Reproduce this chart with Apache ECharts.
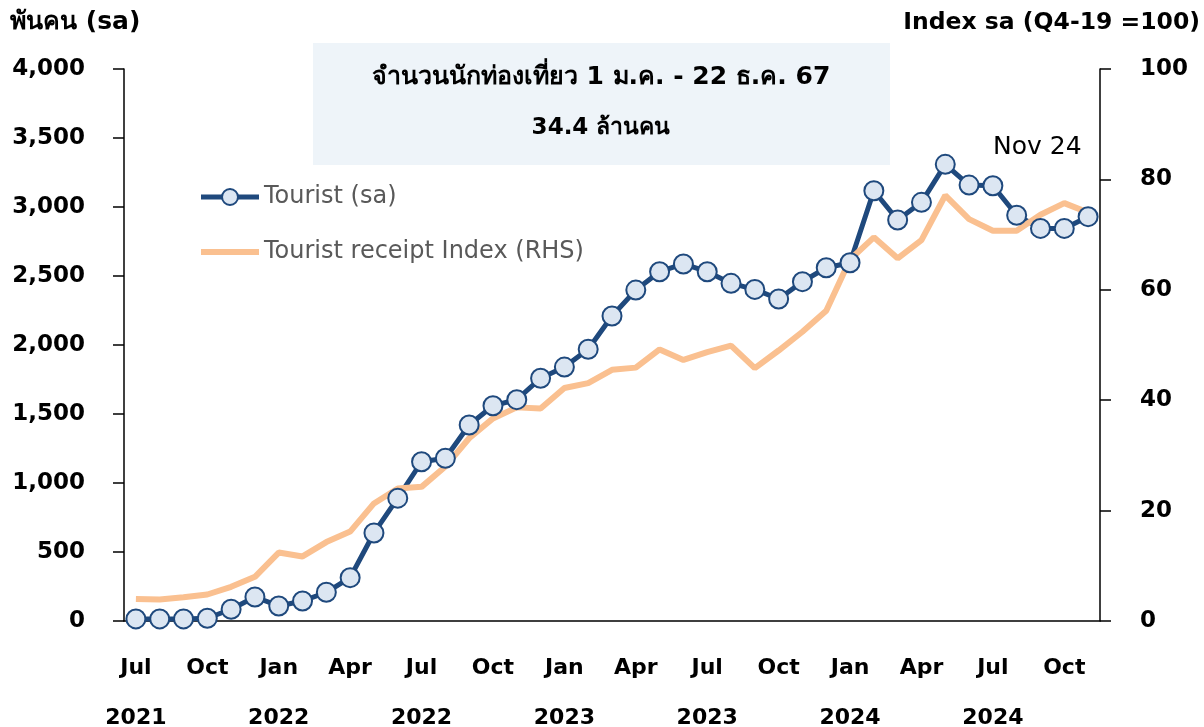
<!DOCTYPE html>
<html>
<head>
<meta charset="utf-8">
<script src="https://cdn.jsdelivr.net/npm/echarts@6/dist/echarts.min.js"></script>
<style>
	html, body { margin: 0; padding: 0; background: #fff; }
	#chart { width: 1204px; height: 727px; }
</style>
</head>
<body>
<div id="chart"></div>
<script>
	// monthly, Jul 2021 - Nov 2024
	var categories = [
		'Jul 2021', 'Aug 2021', 'Sep 2021', 'Oct 2021', 'Nov 2021', 'Dec 2021',
		'Jan 2022', 'Feb 2022', 'Mar 2022', 'Apr 2022', 'May 2022', 'Jun 2022',
		'Jul 2022', 'Aug 2022', 'Sep 2022', 'Oct 2022', 'Nov 2022', 'Dec 2022',
		'Jan 2023', 'Feb 2023', 'Mar 2023', 'Apr 2023', 'May 2023', 'Jun 2023',
		'Jul 2023', 'Aug 2023', 'Sep 2023', 'Oct 2023', 'Nov 2023', 'Dec 2023',
		'Jan 2024', 'Feb 2024', 'Mar 2024', 'Apr 2024', 'May 2024', 'Jun 2024',
		'Jul 2024', 'Aug 2024', 'Sep 2024', 'Oct 2024', 'Nov 2024'
	]
	// thousand persons, seasonally adjusted
	var touristSa = [
		15, 15, 15, 20, 85, 174,
		109, 145, 208, 314, 638, 890,
		1154, 1179, 1420, 1560, 1604, 1759,
		1840, 1969, 2210, 2398, 2531, 2587,
		2531, 2447, 2403, 2333, 2459, 2560,
		2596, 3118, 2906, 3034, 3309, 3159,
		3154, 2940, 2845, 2845, 2930
	]
	// index sa (Q4-19 = 100)
	var receiptIndex = [
		4.0, 3.9, 4.3, 4.8, 6.2, 8.0,
		12.4, 11.7, 14.3, 16.2, 21.3, 24.0,
		24.3, 28.0, 33.1, 36.7, 38.7, 38.5,
		42.2, 43.1, 45.5, 45.9, 49.2, 47.3,
		48.7, 49.9, 45.8, 49.0, 52.4, 56.2,
		65.5, 69.5, 65.7, 69.0, 77.1, 72.8,
		70.7, 70.7, 73.6, 75.7, 74.0
	]
	var yearMonths = ['Jan', 'Jul'] // year is printed under these
	var leftTicks = { min: 0, max: 4000, interval: 500 }
	var rightTicks = { min: 0, max: 100, interval: 20 }
	var boxLines = ['จำนวนนักท่องเที่ยว 1 ม.ค. - 22 ธ.ค. 67', '34.4 ล้านคน']

	var font = 'Tahoma, "DejaVu Sans", "Noto Sans", sans-serif'
	var blue = '#1F497D', orange = '#FAC090'

	var chart = echarts.init(document.getElementById('chart'))
	chart.setOption({
		animation: false,
		textStyle: { fontFamily: font },
		grid: { left: 124, right: 104, top: 69, bottom: 106, containLabel: false, outerBoundsMode: 'none' },
		legend: {
			orient: 'vertical',
			left: 198,
			top: 184,
			padding: 0,
			itemWidth: 58,
			itemHeight: 20,
			itemGap: 29,
			textStyle: { fontSize: 24, color: '#595959', lineHeight: 26, fontFamily: font },
			data: [
				{ name: 'Tourist (sa)', lineStyle: { width: 5 } },
				{ name: 'Tourist receipt Index (RHS)', lineStyle: { width: 6 }, itemStyle: { opacity: 0 } }
			]
		},
		xAxis: {
			type: 'category',
			data: categories,
			boundaryGap: true,
			axisLine: { lineStyle: { color: '#000', width: 1.5 } },
			axisTick: { interval: 2, length: 12, lineStyle: { color: '#000', width: 1.5 } },
			axisLabel: {
				interval: 2,
				margin: 22,
				lineHeight: 50,
				fontSize: 22,
				fontWeight: 'bold',
				color: '#000',
				formatter: function (v) {
					var p = v.split(' ')
					return yearMonths.indexOf(p[0]) >= 0 ? p[0] + '\n' + p[1] : p[0]
				}
			}
		},
		yAxis: [{
			type: 'value',
			min: leftTicks.min, max: leftTicks.max, interval: leftTicks.interval,
			axisLine: { show: true, lineStyle: { color: '#000', width: 1.5 } },
			axisTick: { show: true, length: 11, lineStyle: { color: '#000', width: 1.5 } },
			splitLine: { show: false },
			axisLabel: { margin: 39, fontSize: 23, fontWeight: 'bold', color: '#000' }
		}, {
			type: 'value',
			position: 'right',
			min: rightTicks.min, max: rightTicks.max, interval: rightTicks.interval,
			axisLine: { show: true, lineStyle: { color: '#000', width: 1.5 } },
			axisTick: { show: true, length: 11, lineStyle: { color: '#000', width: 1.5 } },
			splitLine: { show: false },
			axisLabel: { margin: 40, fontSize: 23, fontWeight: 'bold', color: '#000' }
		}],
		graphic: [
			{ type: 'text', left: 10, top: 10, style: { text: 'พันคน (sa)', fontSize: 25, fontWeight: 'bold', fill: '#000', fontFamily: font } },
			{ type: 'text', right: 4, top: 11, style: { text: 'Index sa (Q4-19 =100)', fontSize: 23.5, fontWeight: 'bold', fill: '#000', fontFamily: font } },
			{ type: 'rect', left: 313, top: 43, shape: { width: 577, height: 122 }, style: { fill: '#EEF4F9' } },
			{ type: 'text', x: 601, y: 77, style: { text: boxLines[0], align: 'center', verticalAlign: 'middle', fontSize: 25, fontWeight: 'bold', fill: '#000', fontFamily: font } },
			{ type: 'text', x: 601, y: 128, style: { text: boxLines[1], align: 'center', verticalAlign: 'middle', fontSize: 23, fontWeight: 'bold', fill: '#000', fontFamily: font } },
			{ type: 'text', x: 993, y: 147, style: { text: 'Nov 24', verticalAlign: 'middle', fontSize: 25, fill: '#000', fontFamily: font } }
		],
		series: [{
			name: 'Tourist (sa)',
			type: 'line',
			yAxisIndex: 0,
			data: touristSa,
			symbol: 'circle',
			symbolSize: 19,
			showAllSymbol: true,
			lineStyle: { color: blue, width: 5 },
			itemStyle: { color: '#DCE6F2', borderColor: blue, borderWidth: 2 }
		}, {
			name: 'Tourist receipt Index (RHS)',
			type: 'line',
			yAxisIndex: 1,
			data: receiptIndex,
			showSymbol: false,
			symbol: 'none',
			lineStyle: { color: orange, width: 6 },
			itemStyle: { color: orange }
		}]
	})
</script>
</body>
</html>
